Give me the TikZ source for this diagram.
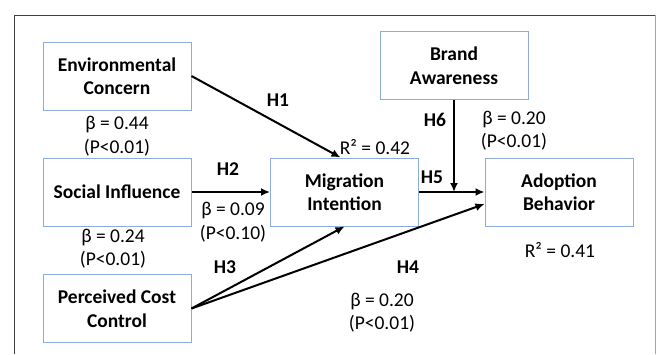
\documentclass[tikz,border=0pt]{standalone}
\usepackage{fontspec}
\setmainfont{Carlito}
\usepackage{xcolor}
\definecolor{boxblue}{HTML}{8FAADC}
\definecolor{framegray}{HTML}{404040}
\usetikzlibrary{arrows.meta,positioning,calc}

\begin{document}
\begin{tikzpicture}[x=1pt, y=-1pt,
    font=\fontsize{19.5}{23.5}\selectfont,
    var/.style={rectangle, draw=boxblue, line width=1pt, fill=white,
      minimum width=148pt, minimum height=68pt, align=center,
      inner sep=2pt, font=\fontsize{19.5}{23.5}\selectfont\bfseries},
    coef/.style={align=center, inner sep=0pt},
    hyp/.style={inner sep=0pt, font=\fontsize{19.5}{23.5}\selectfont\bfseries},
    path/.style={draw=black, line width=2pt, -{Latex[length=9pt,width=8pt]}}]
  \useasboundingbox (0,0) rectangle (657,354);
  % outer frame, open at the bottom
  \draw[framegray, line width=1pt] (14,354) -- (14,15) -- (655,15);
  \draw[gray!70, line width=1pt] (655,15) -- (655,354);

  % constructs
  \node[var] (envc) at (117,76) {Environmental\\Concern};
  \node[var] (socinf) at (117,192) {Social Influence};
  \node[var] (pcc) at (117,308.5) {Perceived Cost\\Control};
  \node[var] (migint) at (344.5,192) {Migration\\Intention};
  \node[var] (brand) at (454,65.5) {Brand\\Awareness};
  \node[var] (adopt) at (559,192) {Adoption\\Behavior};

  % paths
  \coordinate (join) at (brand.south |- migint.east);
  \draw[path] (envc.east) -- ($(migint.north)+(-4,0)$);
  \draw[path] (socinf.east) -- (migint.west);
  \draw[path] (pcc.east) -- (migint.south);
  \draw[path] (pcc.east) -- ($(adopt.west)+(0,12)$);
  \draw[path] (migint.east) -- (adopt.west);
  \draw[path] (brand.south) -- (join);

  % hypothesis labels
  \node[hyp] (h1) at (278,100) {H1};
  \node[hyp] (h2) at (228,169) {H2};
  \node[hyp] (h3) at (225,267) {H3};
  \node[hyp] (h4) at (408,267) {H4};
  \node[hyp] (h5) at (432,177) {H5};
  \node[hyp] (h6) at (435,120) {H6};

  % coefficients
  \node[coef] (c1) at (117,136) {β = 0.44\\(P<0.01)};
  \node[coef] (c2) at (113,248.5) {β = 0.24\\(P<0.01)};
  \node[coef] (c3) at (233,222) {β = 0.09\\(P<0.10)};
  \node[coef] (c4) at (382,312.5) {β = 0.20\\(P<0.01)};
  \node[coef] (c6) at (514,130.5) {β = 0.20\\(P<0.01)};
  \node[coef] (r1) at (375,147) {R² = 0.42};
  \node[coef] (r2) at (560,250) {R² = 0.41};
\end{tikzpicture}
\end{document}
